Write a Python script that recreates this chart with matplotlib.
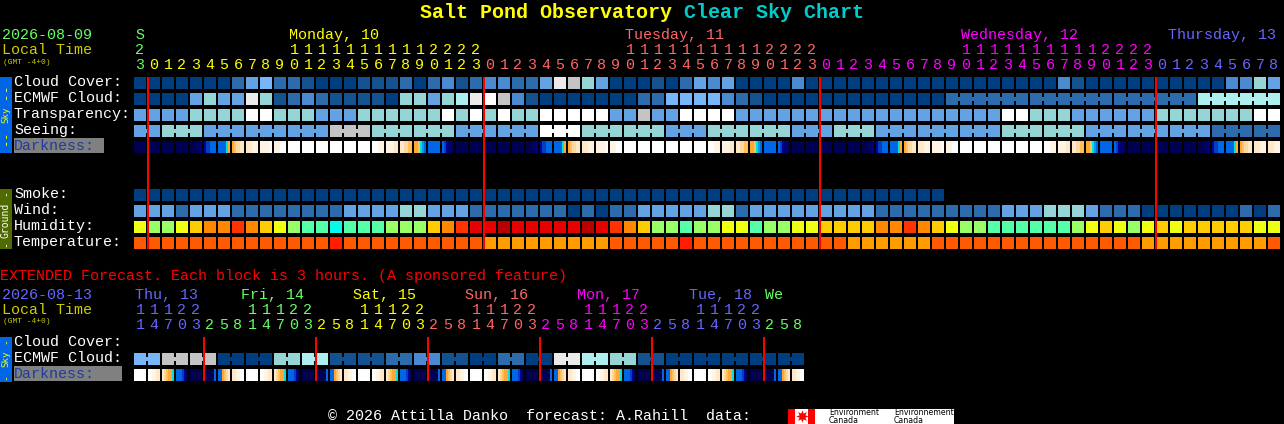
import matplotlib
matplotlib.use("Agg")
import matplotlib.pyplot as plt
from matplotlib.transforms import blended_transform_factory as blend
from matplotlib.patches import Rectangle

W, H = 1284, 424
MONO = "Liberation Mono"

# ---- data: sky condition levels (A darkest blue ... K white) ----
sky_palette = {"A": "#003F7F", "B": "#13518F", "C": "#2C6CAC", "D": "#4A8AD0",
               "E": "#63A3E3", "F": "#77B7F9", "G": "#95D5D5", "H": "#AEEEEE",
               "I": "#C4C4C4", "J": "#EAEAEA", "K": "#FFFFFF"}
cloud_cover = list("AAAAAAACEFCCBAAABBBCA" + "CDBCDDCCEJIGEAAABACEDEAAAADAAAA"
                   + "AAAAAAAAAAAAAADBAAAAAAAAAADDGE")
ecmwf_cloud = list("AAAAEGEEJGBCDCBBBBAGG" + "EGHJKIDBAAAAAAACCFFFFDCBAAAAAAA"
                   + "AAAAAA" + "CCCCCC" * 3 + "HHHHHH")
transparency = list("EEEEGGGGKKGGGEEEGGGGG" + "GKGKGKGGKKKKKEEIEEKKKKEEEEEEEEE"
                    + "EEEEEEEEEEKKGGGEEEEEEGGGGGGGKK")
seeing = list("EE" "GGG" "EEE" "EEE" "EEE" "III" "GGG" "GGG" "EEE" "EEE" "KKK"
              "GGG" "GGG" "EEE" "GGG" "GGG" "EEE" "GGG" "EEE" "EEE" "EEE" "GGG"
              "GGG" "EEE" "EEE" "EEE" "CCC" "CC")
seeing_groups = [2] + [3] * 26 + [2]
ecmwf_groups = [1] * 58 + [6] * 4

smoke = list("A" * 58)
wind = list("EEECEEECCCCCCCCEEEEGG" + "EEECCCCCCCACACCEEEEEGGCEEEEEEEE"
            + "ECCCCCCCCCEEEGGGECCCAAAAAAACAC")
humidity_palette = {"Y": "#EEFF11", "L": "#99FF66", "M": "#55FFAA", "C": "#00FFE6",
                    "O": "#FFCC00", "P": "#FF8800", "Q": "#FF3300", "R": "#E60000",
                    "S": "#B80000"}
humidity = list("YLLYOPPQPOYLMMCMMMLLL" + "OPQRRSRRRRRSRQPOLLMLLYYMLLYYOOO"
                + "OPPQPOYLLMMMMMMLYOYLYOYOOOOOYY")
temp_palette = {"T": "#FF5A00", "U": "#FF9D00", "V": "#FF1E00"}
temperature = list("TTTTTTTTTTTTTTVTTTTTT" + "TTTTUUUUUUUUUTTTTTVTTTTTTTTTTTU"
                   + "UUUUUTTTTTTTTTTTTTTTUUUUUUUUUT")

# darkness: each entry names a strip of six colour samples across one block
dark_palette = {"n": "#000050", "m": "#000070", "d": "#0000A0", "e": "#0040C0",
                "b": "#0066E6", "c": "#00A0E0", "y": "#00E0E0", "o": "#FFA830",
                "p": "#FFC060", "q": "#FFD8A0", "r": "#FFE8C8", "s": "#FFF4E4",
                "w": "#FFFFFF"}
darkness = ["nnnnnn", "nnnnnn", "nnnnnn", "nnnnnn", "nnnnmm", "deebbb", "bbbbyo", "opqqrr",
            "rrrsss", "sssssw", "ssswww", "wwwwww", "wwwwww", "wwwwww", "wwwwww", "wwwwww",
            "wwwwww", "wwwsss", "ssssrr", "rrqqpp", "oopycb", "bbbbbb", "bedmmn", "nnnnnn",
            "nnnnnn", "nnnnnn", "nnnnnn", "nnnnnn", "nnnnmm", "deebbb", "bbbbyo", "opqqrr",
            "rrrsss", "sssssw", "ssswww", "wwwwww", "wwwwww", "wwwwww", "wwwwww", "wwwwww",
            "wwwwww", "wwwsss", "ssssrr", "rrqqpp", "oopycb", "bbbbbb", "bedmmn", "nnnnnn",
            "nnnnnn", "nnnnnn", "nnnnnn", "nnnnnn", "nnnnmm", "deebbb", "bbbbyo", "opqqrr",
            "rrrsss", "sssssw", "ssswww", "wwwwww", "wwwwww", "wwwwww", "wwwwww", "wwwwww",
            "wwwwww", "wwwsss", "ssssrr", "rrqqpp", "oopycb", "bbbbbb", "bedmmn", "nnnnnn",
            "nnnnnn", "nnnnnn", "nnnnnn", "nnnnnn", "nnnnmm", "deebbb", "bbbbyo", "opqqrr",
            "rrrsss", "rrrsss"]

forecast_midnights = [8 / 14, 24 + 8 / 14, 48 + 8 / 14, 72 + 8 / 14]
extended_midnights = [4 + 8 / 14, 12 + 8 / 14, 20 + 8 / 14, 28 + 8 / 14, 36 + 8 / 14, 44 + 8 / 14]

hour_digits = list("3" + "012345678901234567890123" * 3 + "012345678")
hour_colors = ["#66FF66"] + ["#FFFF00"] * 24 + ["#FF6666"] * 24 + ["#FF00FF"] * 24 + ["#6666FF"] * 9
ten_digits = list("1111111111" "2222")
ten_start = [11, 35, 59]
ten_colors = ["#FFFF00", "#FF6666", "#FF00FF"]

ext_ecmwf = list("FFIIIIAAAAGGHHBBBBCCDDBBAACCAAJJHHGGBBAAAAAAAAAA")
ext_groups = [2] * 24
ext_darkness = ["wwwwww", "wwssrr", "rqpooy", "bbbedn", "nnnnnn", "nnnnnb", "bbopqr", "rrssww"] * 6
ext_digits = list("14703258" * 6)
ext_colors = ["#6666FF"] * 5 + ["#66FF66"] * 8 + ["#FFFF00"] * 8 + ["#FF6666"] * 8 \
    + ["#FF00FF"] * 8 + ["#6666FF"] * 8 + ["#66FF66"] * 3
ext_tens = list("11122")
ext_ten_start = [0, 8, 16, 24, 32, 40]
ext_ten_colors = ["#6666FF", "#66FF66", "#FFFF00", "#FF6666", "#FF00FF", "#6666FF"]

row_labels = [("Cloud Cover:", 86), ("ECMWF Cloud:", 102), ("Transparency:", 118),
              ("Seeing:", 134), ("Smoke:", 198), ("Wind:", 214), ("Humidity:", 230),
              ("Temperature:", 246), ("Cloud Cover:", 346), ("ECMWF Cloud:", 362)]

# ---- figure ----
fig = plt.figure(figsize=(W / 100, H / 100), dpi=100, facecolor="black")


def px_axes(left, top, width, height):
    a = fig.add_axes([left / W, 1 - (top + height) / H, width / W, height / H])
    a.set_facecolor("none")
    a.axis("off")
    return a


ov = px_axes(0, 0, W, H)
ov.set_xlim(0, W)
ov.set_ylim(H, 0)

fc = px_axes(133, 75, 1148, 176)
fc.set_xlim(-0.5, 81.5)
fc.set_ylim(10.5, -0.5)
ex = px_axes(133, 335, 672, 48)
ex.set_xlim(-0.5, 47.5)
ex.set_ylim(2.5, -0.5)

CELL = 12 / 14
TALL = 12 / 16
BRIDGE = 4 / 16
crisp = dict(linewidth=0, antialiased=True)


def sharpen(container):
    for p in container:
        p.set_snap(False)


def draw_row(ax, row, codes, palette, groups=None):
    cols = list(range(len(codes)))
    sharpen(ax.bar(cols, TALL, bottom=row - TALL / 2, width=CELL,
                   color=[palette[c] for c in codes], **crisp))
    if groups:
        start = 0
        for g in groups:
            for i in range(start, start + g - 1):
                sharpen(ax.bar(i + 0.5, BRIDGE, bottom=row - BRIDGE / 2, width=0.3,
                               color=palette[codes[i]], **crisp))
            start += g


def draw_strips(ax, row, strips):
    step = CELL / 6
    for i, s in enumerate(strips):
        xs = [i - CELL / 2 + step * (k + 0.5) for k in range(6)]
        sharpen(ax.bar(xs, TALL, bottom=row - TALL / 2, width=step * 1.02,
                       color=[dark_palette[c] for c in s], **crisp))


draw_row(fc, 0, cloud_cover, sky_palette)
draw_row(fc, 1, ecmwf_cloud, sky_palette, ecmwf_groups)
draw_row(fc, 2, transparency, sky_palette)
draw_row(fc, 3, seeing, sky_palette, seeing_groups)
draw_strips(fc, 4, darkness)
draw_row(fc, 7, smoke, sky_palette)
draw_row(fc, 8, wind, sky_palette)
draw_row(fc, 9, humidity, humidity_palette)
draw_row(fc, 10, temperature, temp_palette)
sharpen(fc.bar(forecast_midnights, 10.75, bottom=-0.375, width=2 / 14, color="#FF0000", zorder=5, **crisp))

draw_row(ex, 1, ext_ecmwf, sky_palette, ext_groups)
draw_strips(ex, 2, ext_darkness)
sharpen(ex.bar(extended_midnights, 2.75, bottom=-0.375, width=2 / 14, color="#FF0000", zorder=5, **crisp))


def t(x, y, s, color="white", size=10.8, **kw):
    kw.setdefault("ha", "left")
    kw.setdefault("va", "baseline")
    kw.setdefault("family", MONO)
    return ov.text(x, y, s, color=color, fontsize=size, **kw)


# title
t(420, 18, "Salt Pond Observatory", "#FFFF00", 14.4, weight="bold")
t(684, 18, "Clear Sky Chart", "#00CCCC", 14.4, weight="bold")

# header
t(2, 39, "2026-08-09", "#66FF66")
t(2, 54, "Local Time", "#CCCC00")
t(3, 64, "(GMT -4+0)", "#CCCC00", 5.7)
t(135, 39, "S", "#66FF66")
t(289, 39, "Monday, 10", "#FFFF00")
t(625, 39, "Tuesday, 11", "#FF6666")
t(961, 39, "Wednesday, 12", "#FF00FF")
t(1168, 39, "Thursday, 13", "#6666FF")

tr_fc = blend(fc.transData, ov.transData)
tr_ex = blend(ex.transData, ov.transData)
fc_opts = dict(ha="center", va="baseline", family=MONO, fontsize=10.8)
ov.text(0, 54, "2", color="#66FF66", transform=tr_fc, **fc_opts)
for i, d in enumerate(hour_digits):
    ov.text(i, 69, d, color=hour_colors[i], transform=tr_fc, **fc_opts)
for start, col in zip(ten_start, ten_colors):
    for k, d in enumerate(ten_digits):
        ov.text(start + k, 54, d, color=col, transform=tr_fc, **fc_opts)

# labels
for s, y in row_labels:
    t(14, y, s)
ov.add_patch(Rectangle((14, 138), 90, 15, color="#808080", linewidth=0))
t(14, 150, "Darkness:", "#1C3CA0")
ov.add_patch(Rectangle((14, 366), 108, 15, color="#808080", linewidth=0))
t(14, 378, "Darkness:", "#1C3CA0")

# side bars
ov.add_patch(Rectangle((0, 77), 12, 76, color="#0066E6", linewidth=0))
ov.add_patch(Rectangle((0, 189), 12, 60, color="#4F6A00", linewidth=0))
ov.add_patch(Rectangle((0, 337), 12, 45, color="#0066E6", linewidth=0))
side = dict(ha="center", va="center", rotation=90, family="DejaVu Sans Mono")
t(5.5, 115, "Sky", "#FFFF00", 6.6, **side)
for y in (87, 95, 134, 141):
    t(5.5, y, "-", "#FFFF00", 9, **side)
t(5.5, 220, "Ground", "white", 7, **side)
for y in (193, 244):
    t(5.5, y, "-", "white", 7, **side)
t(5.5, 359, "Sky", "#FFFF00", 6.6, **side)
for y in (341, 377):
    t(5.5, y, "-", "#FFFF00", 7, **side)

# extended section
t(0, 280, "EXTENDED Forecast. Each block is 3 hours. (A sponsored feature)", "#FF0000")
t(2, 299, "2026-08-13", "#6666FF")
t(2, 314, "Local Time", "#CCCC00")
t(3, 323, "(GMT -4+0)", "#CCCC00", 5.7)
for x, s, c in [(135, "Thu, 13", "#6666FF"), (241, "Fri, 14", "#66FF66"), (353, "Sat, 15", "#FFFF00"),
                (465, "Sun, 16", "#FF6666"), (577, "Mon, 17", "#FF00FF"), (689, "Tue, 18", "#6666FF"),
                (765, "We", "#66FF66")]:
    t(x, 299, s, c)
for start, col in zip(ext_ten_start, ext_ten_colors):
    for k, d in enumerate(ext_tens):
        ov.text(start + k, 314, d, color=col, transform=tr_ex, **fc_opts)
for i, d in enumerate(ext_digits):
    ov.text(i, 329, d, color=ext_colors[i], transform=tr_ex, **fc_opts)

# footer
t(328, 420, "© 2026 Attilla Danko  forecast: A.Rahill  data:", "white")
ov.add_patch(Rectangle((788, 409), 166, 15, color="white", linewidth=0))
ov.add_patch(Rectangle((788, 409), 7, 15, color="#FF0000", linewidth=0))
ov.add_patch(Rectangle((808, 409), 7, 15, color="#FF0000", linewidth=0))
ov.plot([801.5], [416], marker=(8, 1, 0), color="#FF0000", markersize=9, markeredgewidth=0)
for x, a in [(829, "Environment"), (894, "Environnement")]:
    t(x, 415, a, "black", 5.6, family="DejaVu Sans")
    t(x, 423, "Canada", "black", 5.6, family="DejaVu Sans")

fig.savefig("out.png", dpi=100, facecolor="black")
